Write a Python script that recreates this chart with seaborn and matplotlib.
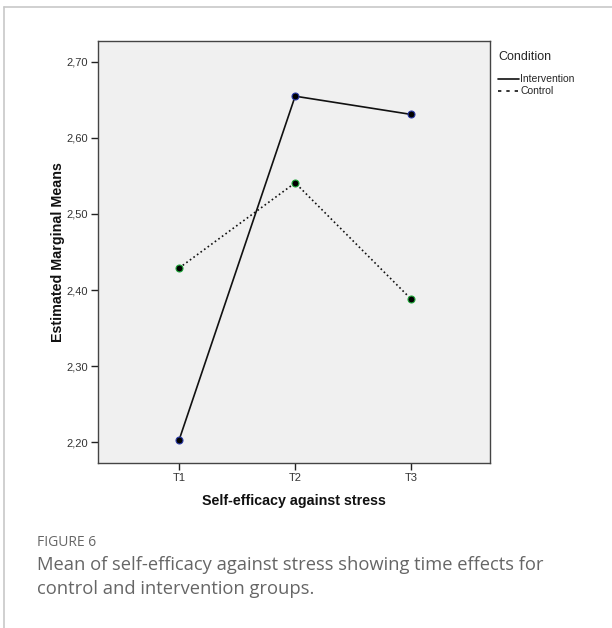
import pandas as pd
import matplotlib
matplotlib.use('Agg')
import matplotlib.pyplot as plt
from matplotlib.lines import Line2D
import seaborn as sns

### data
times = ['T1', 'T2', 'T3']
intervention = [2.203, 2.655, 2.631]
control = [2.429, 2.541, 2.388]
y_ticks = [2.20, 2.30, 2.40, 2.50, 2.60, 2.70]

df = pd.DataFrame({
    'time': times * 2,
    'mean': intervention + control,
    'Condition': ['Intervention'] * 3 + ['Control'] * 3})

sns.set_style('white')
plt.rcParams['font.family'] = ['Liberation Sans', 'DejaVu Sans']

fig = plt.figure(figsize=(6.12, 6.28), dpi=100)
ax = fig.add_axes([98 / 612, 1 - 463 / 628, 392 / 612, 422 / 628])
ax.set_facecolor('#f0f0f0')

styles = {'Intervention': ('-', '#2b3aa8'), 'Control': (':', '#1fa83a')}
for cond in ['Intervention', 'Control']:
    ls, edge = styles[cond]
    sub = df[df['Condition'] == cond]
    sns.lineplot(data=sub, x='time', y='mean', ax=ax, color='#111111',
                 linestyle=ls, linewidth=1.2, marker='o', markersize=5,
                 markerfacecolor='black', markeredgecolor=edge,
                 markeredgewidth=0.8)

ax.set_xlim(-0.7, 2.68)
ax.set_ylim(2.1724, 2.7276)
ax.set_yticks(y_ticks)
ax.set_yticklabels([('%.2f' % v).replace('.', ',') for v in y_ticks])
ax.tick_params(axis='both', direction='out', length=5, width=1,
               color='#222222', labelsize=8, labelcolor='#333333', pad=2,
               left=True, bottom=True)
for s in ax.spines.values():
    s.set_color('#444444')
    s.set_linewidth(1)

ax.set_xlabel('Self-efficacy against stress', fontsize=10.3, fontweight='bold',
              color='#111111', labelpad=8)
ax.set_ylabel('Estimated Marginal Means', fontsize=10.3, fontweight='bold',
              color='#111111', labelpad=1)

# legend on the right of the frame
handles = [Line2D([], [], color='#111111', linestyle='-', linewidth=1.2),
           Line2D([], [], color='#111111', linestyle=(0, (2, 3)), linewidth=1.2)]
leg = fig.legend(handles, ['Intervention', 'Control'], title='Condition',
                 loc='upper left', bbox_to_anchor=(491 / 612, 1 - 44 / 628),
                 frameon=False, fontsize=7.5, title_fontsize=9,
                 handlelength=2.0, handletextpad=0.1, labelspacing=0.2,
                 borderpad=0.2)
leg._legend_box.align = 'left'
leg._legend_box.sep = 8

# card border and caption
fig.add_artist(Line2D([4 / 612, 4 / 612], [0, 1 - 7 / 628], color='#c8c8c8',
                      linewidth=1.2, transform=fig.transFigure))
fig.add_artist(Line2D([4 / 612, 1], [1 - 7 / 628, 1 - 7 / 628], color='#c8c8c8',
                      linewidth=1.2, transform=fig.transFigure))
fig.text(37 / 612, 1 - 543 / 628, 'FIGURE 6', fontsize=10, color='#666666',
         family=['Open Sans', 'DejaVu Sans'], va='center')
fig.text(37 / 612, 1 - 577 / 628,
         'Mean of self-efficacy against stress showing time effects for\ncontrol and intervention groups.',
         fontsize=13.2, color='#666666', family=['Open Sans', 'DejaVu Sans'],
         va='center', linespacing=1.4)

fig.savefig('out.png', dpi=100)
